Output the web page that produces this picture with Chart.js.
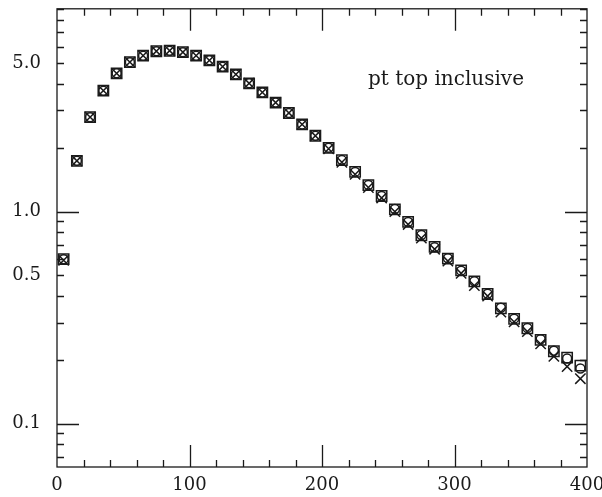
<!DOCTYPE html>
<html>
<head>
<meta charset="utf-8">
<style>
    html, body { margin: 0; padding: 0; background: #fff; }
    #wrap { width: 602px; height: 497px; }
</style>
<script src="https://cdn.jsdelivr.net/npm/chart.js@4.4.0/dist/chart.umd.min.js"></script>
</head>
<body>
<div id="wrap"><canvas id="chart"></canvas></div>
<script>
// pt bins (bin centres) and the three overlaid samples
const ptBins = [5, 15, 25, 35, 45, 55, 65, 75, 85, 95,
    105, 115, 125, 135, 145, 155, 165, 175, 185, 195,
    205, 215, 225, 235, 245, 255, 265, 275, 285, 295,
    305, 315, 325, 335, 345, 355, 365, 375, 385, 395];

const squareVals = [0.597, 1.737, 2.79, 3.72, 4.49, 5.07, 5.44, 5.71, 5.74, 5.65,
    5.44, 5.17, 4.83, 4.44, 4.03, 3.65, 3.27, 2.92, 2.58, 2.28,
    2.00, 1.75, 1.54, 1.335, 1.185, 1.026, 0.895, 0.774, 0.682, 0.601,
    0.529, 0.469, 0.409, 0.350, 0.312, 0.282, 0.2485, 0.2197, 0.205, 0.188];

const circleVals = [0.597, 1.737, 2.79, 3.72, 4.49, 5.07, 5.44, 5.71, 5.74, 5.65,
    5.44, 5.17, 4.83, 4.44, 4.03, 3.65, 3.27, 2.92, 2.58, 2.28,
    2.00, 1.75, 1.54, 1.335, 1.185, 1.03, 0.893, 0.776, 0.680, 0.603,
    0.527, 0.470, 0.410, 0.352, 0.313, 0.283, 0.250, 0.221, 0.203, 0.182];

const crossVals = [0.590, 1.737, 2.79, 3.72, 4.49, 5.07, 5.44, 5.71, 5.74, 5.65,
    5.44, 5.17, 4.83, 4.44, 4.03, 3.65, 3.27, 2.92, 2.58, 2.28,
    1.98, 1.71, 1.50, 1.30, 1.16, 1.00, 0.870, 0.750, 0.665, 0.585,
    0.512, 0.448, 0.400, 0.336, 0.302, 0.272, 0.238, 0.208, 0.186, 0.163];

const xTickLabels = [0, 100, 200, 300, 400];
const yTickLabels = [0.1, 0.5, 1.0, 5.0];
const xMinorTicks = [20, 40, 60, 80, 120, 140, 160, 180, 220, 240, 260, 280, 320, 340, 360, 380];
const xMajorTicks = [100, 200, 300];
const yMinorTicks = [0.07, 0.08, 0.09, 0.2, 0.3, 0.4, 0.5, 0.6, 0.7, 0.8, 0.9,
    2, 3, 4, 5, 6, 7, 8, 9];
const yMajorTicks = [0.1, 1];

const plotLabel = 'pt top inclusive';
const ink = '#1a1a1a';

function toPoints(vals) {
    return vals.map((v, i) => ({ x: ptBins[i], y: v }));
}

// no automatic label padding, chart area comes from layout.padding only
function noPad(s) {
    s.paddingLeft = 0;
    s.paddingRight = 0;
    s.paddingTop = 0;
    s.paddingBottom = 0;
}

// Frame with inward ticks on all four sides, plus the in-plot label
const frameAndTicks = {
    id: 'frameAndTicks',
    beforeDatasetsDraw(chart) {
        const { ctx, chartArea: a, scales } = chart;
        const xs = scales.x, ys = scales.y;
        ctx.save();
        ctx.strokeStyle = ink;
        ctx.lineWidth = 1.3;
        ctx.strokeRect(a.left, a.top, a.right - a.left, a.bottom - a.top);

        const tick = (len, list, horiz) => {
            list.forEach(v => {
                ctx.beginPath();
                if (horiz) {
                    const px = Math.round(xs.getPixelForValue(v)) + 0.5;
                    ctx.moveTo(px, a.bottom); ctx.lineTo(px, a.bottom - len);
                    ctx.moveTo(px, a.top); ctx.lineTo(px, a.top + len);
                } else {
                    const py = Math.round(ys.getPixelForValue(v)) + 0.5;
                    ctx.moveTo(a.left, py); ctx.lineTo(a.left + len, py);
                    ctx.moveTo(a.right, py); ctx.lineTo(a.right - len, py);
                }
                ctx.stroke();
            });
        };
        tick(7, xMinorTicks, true);
        tick(22, xMajorTicks, true);
        tick(7, yMinorTicks, false);
        tick(22, yMajorTicks, false);

        ctx.fillStyle = ink;
        ctx.font = '20px "DejaVu Serif"';
        ctx.textAlign = 'left';
        ctx.textBaseline = 'middle';
        ctx.fillText(plotLabel, 368, 80);
        ctx.restore();
    }
};

const markerStyle = {
    showLine: false,
    backgroundColor: 'rgba(0,0,0,0)',
    borderColor: ink,
    pointBorderWidth: 1.5
};

new Chart(document.getElementById('chart'), {
    type: 'scatter',
    data: {
        datasets: [
            { ...markerStyle, label: 'squares', data: toPoints(squareVals), pointStyle: 'rect', pointRadius: 7.3 },
            { ...markerStyle, label: 'circles', data: toPoints(circleVals), pointStyle: 'circle', pointRadius: 4.5 },
            { ...markerStyle, label: 'crosses', data: toPoints(crossVals), pointStyle: 'crossRot', pointRadius: 7.3 }
        ]
    },
    options: {
        responsive: true,
        maintainAspectRatio: false,
        animation: false,
        layout: { padding: { top: 7, right: 15, left: 0, bottom: 0 } },
        plugins: {
            legend: { display: false },
            tooltip: { enabled: false }
        },
        scales: {
            x: {
                type: 'linear',
                min: 0,
                max: 400,
                grid: { display: false },
                border: { display: false },
                afterBuildTicks: s => { s.ticks = xTickLabels.map(v => ({ value: v })); },
                afterFit: s => { s.height = 30; noPad(s); },
                ticks: {
                    color: ink,
                    padding: 0,
                    maxRotation: 0,
                    font: { family: 'DejaVu Serif', size: 18 },
                    callback: v => String(v)
                }
            },
            y: {
                type: 'logarithmic',
                min: 0.0625,
                max: 9.05,
                grid: { display: false },
                border: { display: false },
                afterBuildTicks: s => { s.ticks = yTickLabels.map(v => ({ value: v })); },
                afterFit: s => { s.width = 57; noPad(s); },
                ticks: {
                    color: ink,
                    padding: 8,
                    font: { family: 'DejaVu Serif', size: 18 },
                    callback: v => Number(v).toFixed(1)
                }
            }
        }
    },
    plugins: [frameAndTicks]
});
</script>
</body>
</html>
